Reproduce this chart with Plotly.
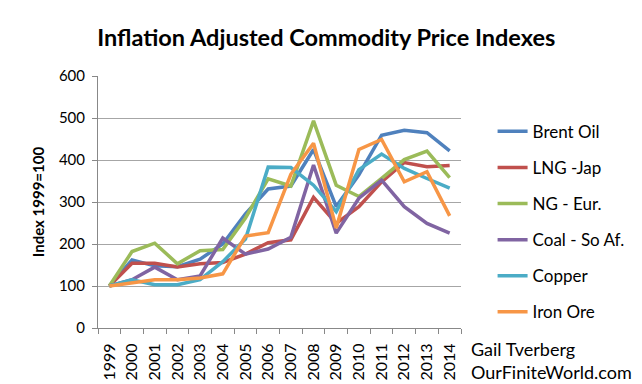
import plotly.graph_objects as go

years = [str(y) for y in range(1999, 2015)]
brent_oil = [100, 162, 148, 146, 164, 200, 272, 331, 338, 425, 289, 365, 459, 471, 465, 422]
lng_jap = [100, 154, 154, 145, 153, 156, 176, 203, 210, 311, 249, 289, 348, 394, 384, 387]
ng_eur = [100, 182, 202, 153, 184, 187, 262, 355, 338, 493, 340, 313, 356, 401, 421, 358]
coal_so_af = [100, 115, 145, 115, 124, 214, 176, 188, 216, 388, 226, 309, 352, 289, 249, 226]
copper = [100, 115, 103, 103, 115, 158, 212, 383, 382, 340, 277, 377, 414, 380, 356, 333]
iron_ore = [100, 107, 115, 115, 119, 129, 219, 227, 366, 440, 238, 425, 449, 348, 372, 267]

series = [
    ("Brent Oil", brent_oil, "#4F81BD"),
    ("LNG -Jap", lng_jap, "#C0504D"),
    ("NG - Eur.", ng_eur, "#9BBB59"),
    ("Coal - So Af.", coal_so_af, "#8064A2"),
    ("Copper", copper, "#4BACC6"),
    ("Iron Ore", iron_ore, "#F79646"),
]

fig = go.Figure()
for i, (name, vals, col) in enumerate(series):
    fig.add_trace(go.Scatter(x=years, y=vals, name=name, mode="lines",
                             line=dict(color=col, width=3.5), legendgroup=str(i)))

font_family = "Lato, 'Open Sans', sans-serif"
fig.update_layout(
    width=634, height=376,
    margin=dict(l=90, r=181, t=68, b=56, autoexpand=False),
    paper_bgcolor="white", plot_bgcolor="white",
    font=dict(family=font_family, color="black", size=14),
    title=dict(text="<b>Inflation Adjusted Commodity Price Indexes</b>",
               x=0.502, xanchor="center", y=0.92, yanchor="middle",
               font=dict(size=23.5, family=font_family)),
    showlegend=True,
    legend=dict(x=1.087, xanchor="left", y=0.85, yanchor="top",
                traceorder="grouped", tracegroupgap=11,
                font=dict(size=17, family=font_family),
                bgcolor="rgba(0,0,0,0)"),
    xaxis=dict(type="category", range=[-0.5, 15.5], tickangle=-90,
               ticks="outside", tickson="boundaries", ticklen=5,
               tickcolor="#888888", showline=True, linecolor="#888888",
               linewidth=1, showgrid=False, ticklabelstandoff=8,
               automargin=False,
               tickfont=dict(size=16, family=font_family)),
    yaxis=dict(range=[0, 600], dtick=100, ticks="outside", ticklen=5,
               tickcolor="#888888", showline=True, linecolor="#888888",
               showgrid=True, gridcolor="#a6a6a6", gridwidth=1,
               zeroline=False, ticklabelstandoff=4, automargin=False,
               tickfont=dict(size=15, family=font_family),
               title=dict(text="<b>Index 1999=100</b>", standoff=10,
                          font=dict(size=15, family=font_family))),
    annotations=[dict(text="Gail Tverberg<br>OurFiniteWorld.com",
                      xref="paper", yref="paper", x=1.022, y=-0.03,
                      xanchor="left", yanchor="top", align="left",
                      showarrow=False, font=dict(size=18, family=font_family))],
)

fig.write_html("out.html")
